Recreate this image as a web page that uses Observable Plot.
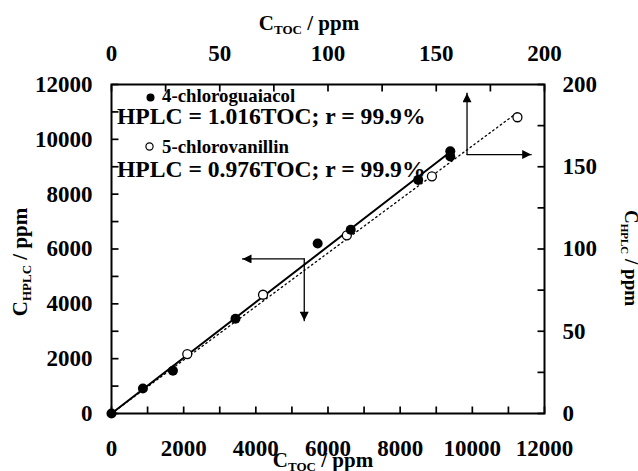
<!DOCTYPE html>
<html><head><meta charset="utf-8">
<script src="https://cdn.jsdelivr.net/npm/d3@7"></script>
<script src="https://cdn.jsdelivr.net/npm/@observablehq/plot@0.6"></script>
<style>body{margin:0;background:#fff}</style>
</head><body><div id="chart"></div>
<script>
// 4-chloroguaiacol (bottom / left axes, ppm 0-12000)
const guaiacolTOC  = [0, 870, 1703, 3436, 5714, 6630, 8500, 9389, 9389];
const guaiacolHPLC = [0, 910, 1560, 3457, 6200, 6700, 8520, 9565, 9372];
// 5-chlorovanillin (top / right axes, ppm 0-200)
const vanillinTOC  = [35.0, 70.0, 108.7, 148.0, 187.5];
const vanillinHPLC = [36.1, 72.2, 108.3, 144.2, 180.1];
const slopeGuaiacol = 1.016, slopeVanillin = 0.976;
const guaiacolFitEnd = 9389, vanillinFitEnd = 187.5;
// tick values
const mainTicks = [0, 2000, 4000, 6000, 8000, 10000, 12000];
const mainMinor = [0,1000,2000,3000,4000,5000,6000,7000,8000,9000,10000,11000,12000];
const secTicks = [0, 50, 100, 150, 200];
const secMinor = [0, 25, 50, 75, 100, 125, 150, 175, 200];
const secFactor = 60; // 200 ppm on secondary axes ↔ 12000 on primary
// arrows (primary data units): [x1,y1,x2,y2]
const arrowSegs = [
  [5342, 5637, 3631, 5637], [5342, 5637, 5342, 3384],
  [9853, 9445, 11631, 9445], [9853, 9445, 9853, 11683]
];
const legendNames = ["4-chloroguaiacol", "5-chlorovanillin"];
const equations = ["HPLC = 1.016TOC; r = 99.9%", "HPLC = 0.976TOC; r = 99.9%"];

const guai = guaiacolTOC.map((x, i) => ({x, y: guaiacolHPLC[i]}));
const van = vanillinTOC.map((x, i) => ({x: x * secFactor, y: vanillinHPLC[i] * secFactor}));
const fitG = [{x: 0, y: 0}, {x: guaiacolFitEnd, y: guaiacolFitEnd * slopeGuaiacol}];
const fitV = [{x: 0, y: 0}, {x: vanillinFitEnd * secFactor, y: vanillinFitEnd * slopeVanillin * secFactor}];
const arrows = arrowSegs.map(([x1, y1, x2, y2]) => ({x1, y1, x2, y2}));
const font = "'Liberation Serif', 'Times New Roman', serif";

const W = 638, H = 471, mL = 111, mR = 94, mT = 84, mB = 58, tk = 7;
const tickLen = 12000 * tk / (H - mT - mB), tickLenX = 12000 * tk / (W - mL - mR);
const tickSegs = [
  ...mainMinor.map(v => ({x1: v, x2: v, y1: 0, y2: tickLen})),
  ...mainMinor.map(v => ({x1: 0, x2: tickLenX, y1: v, y2: v})),
  ...secMinor.map(v => ({x1: v * secFactor, x2: v * secFactor, y1: 12000, y2: 12000 - tickLen})),
  ...secMinor.map(v => ({x1: 12000, x2: 12000 - tickLenX, y1: v * secFactor, y2: v * secFactor}))
];

const plot = Plot.plot({
  width: W, height: H,
  marginLeft: mL, marginRight: mR, marginTop: mT, marginBottom: mB,
  style: {fontFamily: font, fontSize: "23px", fontWeight: "bold", background: "#fff", color: "#000"},
  x: {domain: [0, 12000]},
  y: {domain: [0, 12000]},
  marks: [
    Plot.axisX({anchor: "bottom", ticks: mainTicks, tickSize: 0, tickPadding: 26, tickFormat: d => String(d), label: null}),
    Plot.axisY({anchor: "left", ticks: mainTicks, tickSize: 0, tickPadding: 19, tickFormat: d => String(d), label: null}),
    Plot.axisX({anchor: "top", ticks: secTicks.map(v => v * secFactor), tickSize: 0, tickPadding: 24, tickFormat: d => String(d / secFactor), label: null}),
    Plot.axisY({anchor: "right", ticks: secTicks.map(v => v * secFactor), tickSize: 0, tickPadding: 18, tickFormat: d => String(d / secFactor), label: null}),
    Plot.line(fitV, {x: "x", y: "y", stroke: "#000", strokeWidth: 1.3, strokeDasharray: "1.5,3.2"}),
    Plot.line(fitG, {x: "x", y: "y", stroke: "#000", strokeWidth: 2}),
    Plot.arrow(arrows, {x1: "x1", y1: "y1", x2: "x2", y2: "y2", stroke: "#000", strokeWidth: 1.3, headLength: 0}),
    Plot.dot(van, {x: "x", y: "y", r: 4.5, fill: "#fff", stroke: "#000", strokeWidth: 1.3}),
    Plot.dot(guai, {x: "x", y: "y", r: 5, fill: "#000", stroke: "none"}),
    Plot.arrow(tickSegs, {x1: "x1", y1: "y1", x2: "x2", y2: "y2", stroke: "#000", strokeWidth: 1.7, headLength: 0, strokeLinecap: "butt"}),
    Plot.frame({stroke: "#000", strokeWidth: 2})
  ]
});

const svg = d3.select(plot);
// filled arrowheads on the annotation arrows (first arrow mark only)
const defs = svg.insert("defs", ":first-child");
defs.append("marker").attr("id", "tri").attr("viewBox", "0 -5 10 10")
  .attr("refX", 10).attr("refY", 0).attr("markerUnits", "userSpaceOnUse")
  .attr("markerWidth", 11).attr("markerHeight", 9).attr("orient", "auto")
  .append("path").attr("d", "M0,-5L10,0L0,5Z").attr("fill", "#000");
svg.select('g[aria-label="arrow"]').selectAll("path").attr("marker-end", "url(#tri)");

function title(g, x, y, rot, size) {
  return g.append("text").attr("transform", `translate(${x},${y}) rotate(${rot})`)
    .attr("text-anchor", "middle").style("font-size", size + "px").style("font-weight", "bold")
    .style("font-family", font).attr("fill", "#000");
}
function sub(t, main, subt, rest, ssize) {
  t.append("tspan").text(main);
  t.append("tspan").text(subt).style("font-size", ssize + "px").attr("dy", 4);
  t.append("tspan").text(rest).attr("dy", -4);
}
const g = svg.append("g").attr("text-anchor", "start");
sub(title(g, 309, 30, 0, 21), "C", "TOC", " / ppm", 13);
sub(title(g, 323, 467, 0, 21), "C", "TOC", " / ppm", 13);
sub(title(g, 27, 262, -90, 21), "C", "HPLC", " / ppm", 13);
sub(title(g, 625, 258, 90, 19), "C", "HPLC", " / ppm", 11);

// legend
g.append("circle").attr("cx", 150.5).attr("cy", 97.5).attr("r", 4).attr("fill", "#000");
g.append("circle").attr("cx", 149.5).attr("cy", 146.5).attr("r", 3.6).attr("fill", "#fff").attr("stroke", "#000").attr("stroke-width", 1.2);
[[legendNames[0], 101.5], [legendNames[1], 152.5]].forEach(([s, y]) =>
  g.append("text").attr("x", 162).attr("y", y).attr("text-anchor", "start").text(s)
    .style("font-size", "18.8px").style("font-family", font).style("font-weight", "bold"));
[[equations[0], 124], [equations[1], 176.5]].forEach(([s, y]) =>
  g.append("text").attr("x", 117).attr("y", y).attr("text-anchor", "start").text(s)
    .style("font-size", "23.6px").style("font-family", font).style("font-weight", "bold"));

document.getElementById("chart").append(plot);
</script></body></html>
